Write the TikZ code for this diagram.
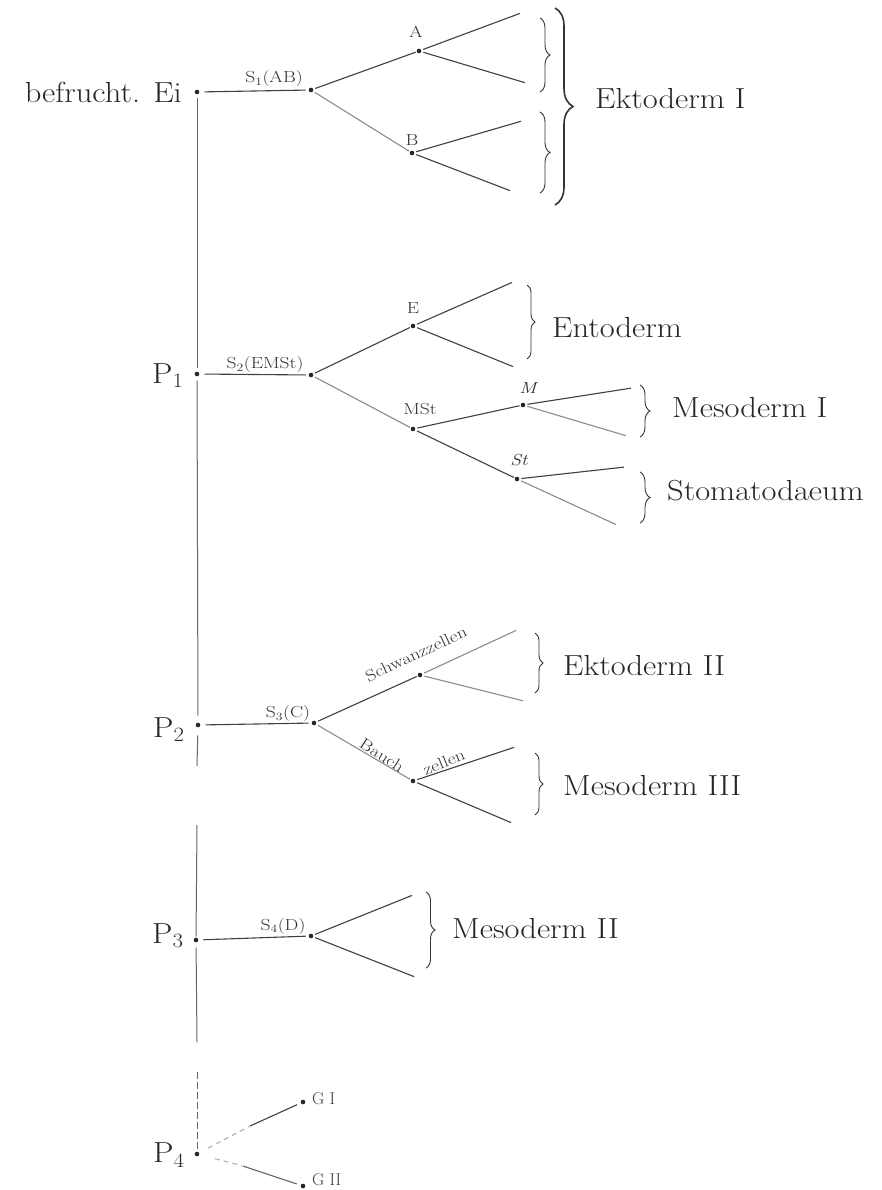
\documentclass[tikz,border=0pt]{standalone}
\usepackage{graphicx}
\usetikzlibrary{decorations.pathreplacing}
\newcommand{\widesmall}[1]{\scalebox{1.22}[1]{#1}}
\newcommand{\widelarge}[1]{\scalebox{1.12}[1]{#1}}
\begin{document}
\begin{tikzpicture}[x=1pt,y=-1pt,
  dot/.style={circle,fill=black!85,inner sep=0pt,minimum size=4.6pt},
  ln/.style={line width=1.1pt,draw=black!75,shorten <=2pt,shorten >=1pt},
  lt/.style={line width=1.1pt,draw=black!45,shorten <=2pt,shorten >=1pt},
  vl/.style={line width=1pt,draw=black!60,shorten <=2pt,shorten >=1pt},
  sl/.style={font=\fontsize{16}{16}\selectfont,inner sep=0pt,text=black!80},
  gl/.style={font=\fontsize{17}{17}\selectfont,inner sep=0pt,text=black!75,anchor=west},
  bl/.style={font=\fontsize{29}{29}\selectfont,inner sep=0pt,text=black!85,anchor=base west},
  brc/.style={decorate,decoration={brace,amplitude=#1},line width=0.9pt,draw=black!80},
  brc/.default=10pt]
\fill[white] (0,0) rectangle (881,1190);
\useasboundingbox (0,0) rectangle (881,1190);

% ---- dots
\node[dot] (ei) at (197,92) {};
\node[dot] (s1) at (311,90) {};
\node[dot] (a) at (419,51) {};
\node[dot] (b) at (412,153) {};
\node[dot] (p1) at (197,374) {};
\node[dot] (s2) at (311,375) {};
\node[dot] (e) at (413,326) {};
\node[dot] (mst) at (413,429) {};
\node[dot] (m) at (523,405) {};
\node[dot] (st) at (517,479) {};
\node[dot] (p2) at (198,725) {};
\node[dot] (s3) at (314,723) {};
\node[dot] (sw) at (420,675) {};
\node[dot] (ba) at (413,781) {};
\node[dot] (p3) at (196,940) {};
\node[dot] (s4) at (311,936) {};
\node[dot] (p4) at (197,1154) {};
\node[dot] (g1) at (303,1102) {};
\node[dot] (g2) at (303,1186) {};

% ---- leaf ends
\coordinate (a1) at (521,13);  \coordinate (a2) at (526,83);
\coordinate (b1) at (522,121); \coordinate (b2) at (511,191);
\coordinate (e1) at (513,282); \coordinate (e2) at (514,367);
\coordinate (m1) at (632,388); \coordinate (m2) at (627,436);
\coordinate (st1) at (625,467); \coordinate (st2) at (617,525);
\coordinate (sw1) at (517,630); \coordinate (sw2) at (524,701);
\coordinate (ba1) at (515,747); \coordinate (ba2) at (512,823);
\coordinate (d1) at (413,895); \coordinate (d2) at (415,977);
\coordinate (v1) at (197,766); \coordinate (v2) at (197,825);
\coordinate (v3) at (197,1042); \coordinate (v4) at (197,1072);
\coordinate (gm1) at (250,1126); \coordinate (gm2) at (243,1166);

% ---- germ line
\draw[vl,shorten <=4pt,shorten >=4pt] (ei) -- (p1);
\draw[vl,shorten <=4pt,shorten >=7pt] (p1) -- (p2);
\draw[vl,shorten <=8pt,shorten >=0pt] (p2) -- (v1);
\draw[vl,shorten <=0pt] (v2) -- (p3);
\draw[vl,shorten <=5pt,shorten >=0pt] (p3) -- (v3);
\draw[vl,shorten <=0pt,dash pattern=on 7pt off 3pt] (v4) -- (p4);

% ---- branches
\draw[ln,shorten <=5pt,shorten >=3pt] (ei) -- (s1);
\draw[ln] (s1) -- (a);
\draw[lt] (s1) -- (b);
\draw[ln] (a) -- (a1); \draw[ln] (a) -- (a2);
\draw[ln] (b) -- (b1); \draw[ln] (b) -- (b2);

\draw[ln,shorten <=5pt,shorten >=3pt] (p1) -- (s2);
\draw[ln] (s2) -- (e);
\draw[lt] (s2) -- (mst);
\draw[ln] (e) -- (e1); \draw[ln] (e) -- (e2);
\draw[ln] (mst) -- (m);
\draw[ln] (m) -- (m1); \draw[lt] (m) -- (m2);
\draw[ln] (mst) -- (st);
\draw[ln] (st) -- (st1); \draw[lt] (st) -- (st2);

\draw[ln,shorten <=5pt,shorten >=3pt] (p2) -- (s3);
\draw[ln] (s3) -- (sw);
\draw[lt] (sw) -- (sw1); \draw[lt] (sw) -- (sw2);
\draw[lt] (s3) -- (ba);
\draw[ln] (ba) -- (ba1); \draw[ln] (ba) -- (ba2);

\draw[ln,shorten <=5pt,shorten >=3pt] (p3) -- (s4);
\draw[ln] (s4) -- (d1); \draw[ln] (s4) -- (d2);

\draw[lt,draw=black!30,shorten <=10pt,dash pattern=on 5pt off 4pt] (p4) -- (gm1);
\draw[ln,shorten <=0pt,shorten >=4pt] (gm1) -- (g1);
\draw[lt,draw=black!30,shorten <=16pt,dash pattern=on 5pt off 4pt] (p4) -- (gm2);
\draw[ln,draw=black!60,shorten <=0pt,shorten >=4pt] (gm2) -- (g2);

% ---- braces
\draw[brc=10pt] (540,18) -- (540,92);
\draw[brc=10pt] (540,112) -- (540,193);
\draw[brc=18pt,line width=1.6pt] (555,8) -- (555,205);
\draw[brc=8pt] (527,285) -- (527,359);
\draw[brc=10pt] (640,385) -- (640,437);
\draw[brc=10pt] (640,472) -- (640,523);
\draw[brc=8pt] (535,633) -- (535,693);
\draw[brc=8pt] (535,753) -- (535,815);
\draw[brc=9pt] (426,892) -- (426,968);

% ---- small labels
\node[sl] (ls1) at (274,79) {\widesmall{S\textsubscript{1}(AB)}};
\node[sl] (ls2) at (265,365) {\widesmall{S\textsubscript{2}(EMSt)}};
\node[sl] (ls3) at (288,714) {\widesmall{S\textsubscript{3}(C)}};
\node[sl] (ls4) at (283,926) {\widesmall{S\textsubscript{4}(D)}};
\node[sl] (la) at (416,32) {\widesmall{A}};
\node[sl] (lb) at (412,140) {\widesmall{B}};
\node[sl] (le) at (413,308) {\widesmall{E}};
\node[sl] (lmst) at (420,409) {\widesmall{MSt}};
\node[sl] (lm) at (528,388) {\widesmall{\itshape M}};
\node[sl] (lst) at (519,460) {\widesmall{\itshape St}};
\node[sl,rotate=25] (lsw) at (416,654) {\widesmall{Schwanzzellen}};
\node[sl,rotate=-33] (lbau) at (382,755) {\widesmall{Bauch}};
\node[sl,rotate=22] (lzel) at (444,762) {\widesmall{zellen}};
\node[gl] (lg1) at (312,1099) {G I};
\node[gl] (lg2) at (312,1180) {G II};

% ---- large labels
\node[bl,anchor=base east] (lei) at (182,103) {\widelarge{befrucht. Ei}};
\node[bl] (lp1) at (152,383) {\widelarge{P\textsubscript{1}}};
\node[bl] (lp2) at (153,737) {\widelarge{P\textsubscript{2}}};
\node[bl] (lp3) at (152,943) {\widelarge{P\textsubscript{3}}};
\node[bl] (lp4) at (153,1162) {\widelarge{P\textsubscript{4}}};
\node[bl] (lekt1) at (595,109) {\widelarge{Ektoderm I}};
\node[bl] (lento) at (552,337) {\widelarge{Entoderm}};
\node[bl] (lmes1) at (672,417) {\widelarge{Mesoderm I}};
\node[bl] (lstom) at (667,500) {\widelarge{Stomatodaeum}};
\node[bl] (lekt2) at (563,675) {\widelarge{Ektoderm II}};
\node[bl] (lmes3) at (563,795) {\widelarge{Mesoderm III}};
\node[bl] (lmes2) at (452,938) {\widelarge{Mesoderm II}};
\end{tikzpicture}
\end{document}
